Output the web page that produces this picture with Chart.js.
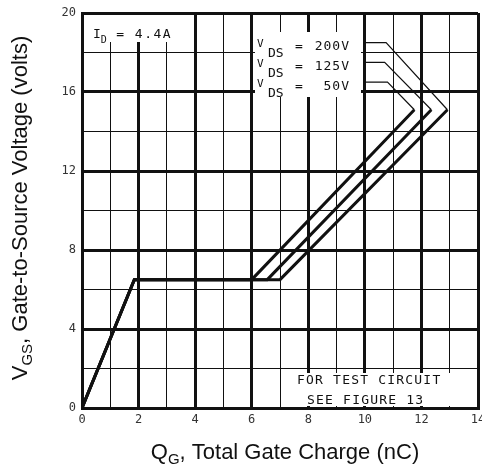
<!DOCTYPE html>
<html lang="en">
<head>
  <meta charset="UTF-8">
  <title>Gate Charge vs Gate-to-Source Voltage</title>
  <script src="https://cdn.jsdelivr.net/npm/chart.js"></script>
  <style>
    body {
      margin: 0;
      background-color: #fff;
    }
    canvas {
      display: block;
    }
  </style>
</head>
<body>

  <canvas id="gateCharge" width="482" height="470"></canvas>

  <script>
    // curves: Qg (nC) vs Vgs (V)
    const qg50 = [0, 1.85, 6.0, 11.75];
    const qg125 = [0, 1.85, 6.55, 12.35];
    const qg200 = [0, 1.85, 7.0, 12.92];
    const vgsCurve = [0, 6.5, 6.5, 15.1];

    // leader lines from the labels to the curve ends
    const lead50x = [9.95, 10.8, 11.75];
    const lead50y = [16.5, 16.5, 15.1];
    const lead125x = [9.95, 10.7, 12.35];
    const lead125y = [17.5, 17.5, 15.1];
    const lead200x = [9.95, 10.75, 12.92];
    const lead200y = [18.5, 18.5, 15.1];

    const vdsLabels = ['200V', '125V', '50V'];
    const xTicks = [0, 2, 4, 6, 8, 10, 12, 14];
    const yTicks = [0, 4, 8, 12, 16, 20];

    function pts(xs, ys) {
      return xs.map((x, i) => ({ x: x, y: ys[i] }));
    }

    function curve(label, xs, ys, width) {
      return {
        label: label,
        data: pts(xs, ys),
        borderColor: '#111',
        borderWidth: width,
        pointRadius: 0,
        fill: false,
        tension: 0
      };
    }

    // draws text made of parts, some smaller and shifted (subscripts)
    function richText(ctx, parts, x, y, align) {
      let total = 0;
      parts.forEach(p => {
        ctx.font = p.font;
        ctx.letterSpacing = p.ls || '0px';
        total += ctx.measureText(p.t).width;
      });
      let cx = align === 'center' ? x - total / 2 : x;
      parts.forEach(p => {
        ctx.font = p.font;
        ctx.letterSpacing = p.ls || '0px';
        ctx.fillText(p.t, cx, y + (p.dy || 0));
        cx += ctx.measureText(p.t).width;
      });
      ctx.letterSpacing = '0px';
    }

    const big = '22px "Liberation Sans", Arial, sans-serif';
    const sub = '15px "Liberation Sans", Arial, sans-serif';
    const mono = '13px "DejaVu Sans Mono", monospace';
    const monoSmall = '10px "DejaVu Sans Mono", monospace';

    const labelsPlugin = {
      id: 'labels',
      beforeDatasetsDraw(chart) {
        const ctx = chart.ctx;
        ctx.save();
        ctx.fillStyle = '#fff';
        // blank areas behind the notes, as in the printed chart
        ctx.fillRect(85, 15, 109, 27);
        ctx.fillRect(255, 32, 106, 65);
        ctx.fillRect(291, 373, 185, 33);
        ctx.restore();
      },
      afterDraw(chart) {
        const ctx = chart.ctx;
        ctx.save();
        ctx.fillStyle = '#111';
        ctx.textBaseline = 'alphabetic';

        // x axis title
        richText(ctx, [
          { t: 'Q', font: big },
          { t: 'G', font: sub, dy: 5 },
          { t: ', Total Gate Charge (nC)', font: big }
        ], 285, 459, 'center');

        // y axis title
        ctx.save();
        ctx.translate(27, 208);
        ctx.rotate(-Math.PI / 2);
        richText(ctx, [
          { t: 'V', font: big },
          { t: 'GS', font: sub, dy: 5 },
          { t: ', Gate-to-Source Voltage (volts)', font: big }
        ], 0, 0, 'center');
        ctx.restore();

        // drain current note
        richText(ctx, [
          { t: 'I', font: mono },
          { t: 'D', font: monoSmall, dy: 5 },
          { t: ' = 4.4A', font: mono, ls: '1.5px' }
        ], 93, 38, 'left');

        // VDS notes
        vdsLabels.forEach((v, i) => {
          const base = 50 + i * 20;
          ctx.font = '11px "DejaVu Sans Mono", monospace';
          ctx.textAlign = 'left';
          ctx.fillText('V', 257, base - 3);
          ctx.font = mono;
          ctx.fillText('DS', 268, base + 7);
          ctx.fillText('=', 295, base);
          ctx.textAlign = 'right';
          ctx.letterSpacing = '1px';
          ctx.fillText(v, 350, base);
          ctx.letterSpacing = '0px';
        });

        // test circuit note
        ctx.textAlign = 'left';
        ctx.font = mono;
        ctx.letterSpacing = '1.2px';
        ctx.fillText('FOR TEST CIRCUIT', 297, 384);
        ctx.fillText('SEE FIGURE 13', 307, 404);
        ctx.letterSpacing = '0px';
        ctx.restore();
      }
    };

    const ctx = document.getElementById('gateCharge').getContext('2d');

    new Chart(ctx, {
      type: 'line',
      data: {
        datasets: [
          curve('VDS = 50V', qg50, vgsCurve, 3),
          curve('VDS = 125V', qg125, vgsCurve, 3),
          curve('VDS = 200V', qg200, vgsCurve, 3),
          curve('lead 50V', lead50x, lead50y, 1.2),
          curve('lead 125V', lead125x, lead125y, 1.2),
          curve('lead 200V', lead200x, lead200y, 1.2)
        ]
      },
      options: {
        responsive: false,
        animation: false,
        layout: {
          padding: { top: 13, right: 4, left: 0, bottom: 0 }
        },
        plugins: {
          legend: { display: false },
          tooltip: { enabled: false }
        },
        scales: {
          x: {
            type: 'linear',
            min: 0,
            max: 14,
            afterFit(scale) {
              scale.height = 62;
              scale.paddingRight = 0;
            },
            ticks: {
              stepSize: 1,
              autoSkip: false,
              maxRotation: 0,
              padding: 5,
              color: '#333',
              font: { family: 'DejaVu Sans Mono', size: 12 },
              callback: v => xTicks.includes(v) ? v : ''
            },
            grid: {
              color: '#111',
              drawTicks: false,
              lineWidth: c => (c.tick && xTicks.includes(c.tick.value)) ? 3 : 1
            },
            border: { color: '#111', width: 3 }
          },
          y: {
            type: 'linear',
            min: 0,
            max: 20,
            afterFit(scale) {
              scale.width = 82;
              scale.paddingTop = 0;
              scale.paddingBottom = 0;
            },
            ticks: {
              stepSize: 2,
              autoSkip: false,
              padding: 6,
              color: '#333',
              font: { family: 'DejaVu Sans Mono', size: 12 },
              callback: v => yTicks.includes(v) ? v : ''
            },
            grid: {
              color: '#111',
              drawTicks: false,
              lineWidth: c => (c.tick && yTicks.includes(c.tick.value)) ? 3 : 1
            },
            border: { color: '#111', width: 3 }
          }
        }
      },
      plugins: [labelsPlugin]
    });
  </script>

</body>
</html>
